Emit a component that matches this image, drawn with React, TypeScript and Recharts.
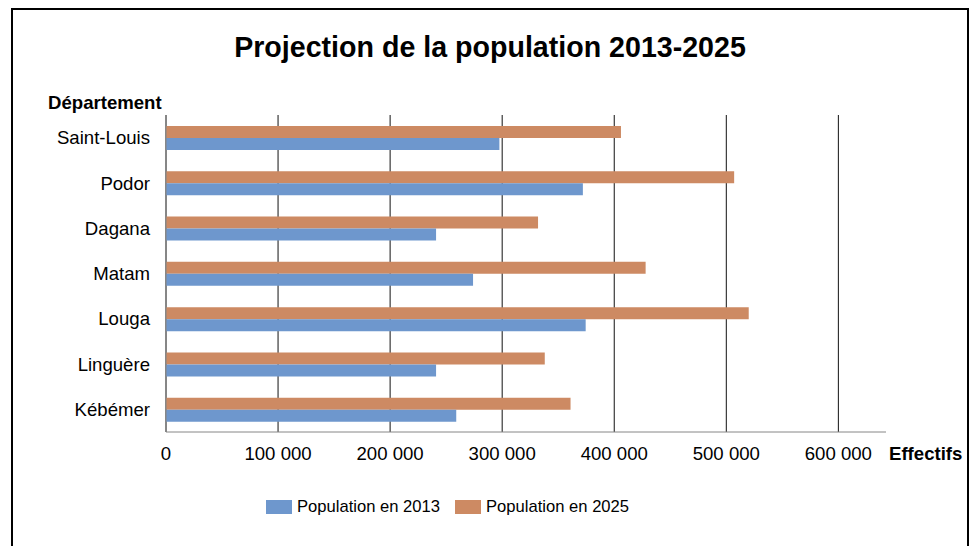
import React from 'react';
import { BarChart, Bar, XAxis, YAxis, CartesianGrid } from 'recharts';

const departements = ['Saint-Louis', 'Podor', 'Dagana', 'Matam', 'Louga', 'Linguère', 'Kébémer'];
const pop2013 = [297500, 372000, 241000, 274000, 374500, 241000, 259000];
const pop2025 = [406000, 507000, 332000, 428000, 520000, 338000, 361000];
const xTicks = [0, 100000, 200000, 300000, 400000, 500000, 600000];
const X_MAX = 642500;

const BLUE = '#6E97CD';
const ORANGE = '#CD8A63';
const FONT = '"Liberation Sans", Arial, sans-serif';

const data = departements.map((name, i) => ({
  name,
  pop2013: pop2013[i],
  pop2025: pop2025[i],
}));

// 100 000 style, espace comme séparateur
const fmt = (v: number) => String(v).replace(/\B(?=(\d{3})+(?!\d))/g, ' ');

// grille verticale seulement aux graduations (pas au bord droit)
const gridX = (props: any) => {
  const scale = props?.xAxis?.scale;
  const off = props?.offset;
  return xTicks.map((t) => {
    if (typeof scale === 'function') return scale(t);
    if (scale && typeof scale.map === 'function') return scale.map(t);
    return off.left + (t / X_MAX) * off.width;
  });
};

const LegendItem: React.FC<{ color: string; label: string }> = ({ color, label }) => (
  <div style={{ display: 'flex', alignItems: 'center', marginRight: 15 }}>
    <div style={{ width: 26, height: 14, background: color, marginRight: 5 }} />
    <span style={{ fontSize: 16.6, lineHeight: '17px' }}>{label}</span>
  </div>
);

export default function App() {
  return (
    <div
      style={{
        position: 'fixed',
        top: 8,
        left: 11,
        width: 954,
        height: 540,
        border: '2px solid #000',
        fontFamily: FONT,
        color: '#000',
        background: '#fff',
      }}
    >
      <div
        style={{
          position: 'absolute',
          top: 23,
          left: 0,
          width: '100%',
          textAlign: 'center',
          fontSize: 28.6,
          lineHeight: '28px',
          fontWeight: 'bold',
        }}
      >
        Projection de la population 2013-2025
      </div>
      <div
        style={{
          position: 'absolute',
          top: 84,
          left: 35,
          fontSize: 18.6,
          lineHeight: '18px',
          fontWeight: 'bold',
        }}
      >
        Département
      </div>
      <div
        style={{
          position: 'absolute',
          top: 435,
          left: 876,
          fontSize: 18.6,
          lineHeight: '18px',
          fontWeight: 'bold',
        }}
      >
        Effectifs
      </div>

      <BarChart
        width={954}
        height={540}
        data={data}
        layout="vertical"
        barGap={0}
        margin={{ top: 105, right: 81, bottom: 88, left: 0 }}
        style={{ fontFamily: FONT }}
      >
        <CartesianGrid horizontal={false} stroke="#111" verticalCoordinatesGenerator={gridX} />
        <XAxis
          type="number"
          domain={[0, X_MAX]}
          ticks={xTicks}
          tickFormatter={fmt}
          tickLine={false}
          tickSize={0}
          tickMargin={15}
          height={30}
          axisLine={{ stroke: '#868686' }}
          tick={{ fill: '#000', fontSize: 18.6 }}
        />
        <YAxis
          type="category"
          dataKey="name"
          width={153}
          tickLine={false}
          tickSize={0}
          tickMargin={16}
          axisLine={{ stroke: '#868686' }}
          tick={{ fill: '#000', fontSize: 18.6 }}
        />
        <Bar dataKey="pop2025" name="Population en 2025" fill={ORANGE} barSize={12} isAnimationActive={false} />
        <Bar dataKey="pop2013" name="Population en 2013" fill={BLUE} barSize={12} isAnimationActive={false} />
      </BarChart>

      <div style={{ position: 'absolute', top: 488, left: 253, display: 'flex', alignItems: 'center' }}>
        <LegendItem color={BLUE} label="Population en 2013" />
        <LegendItem color={ORANGE} label="Population en 2025" />
      </div>
    </div>
  );
}
